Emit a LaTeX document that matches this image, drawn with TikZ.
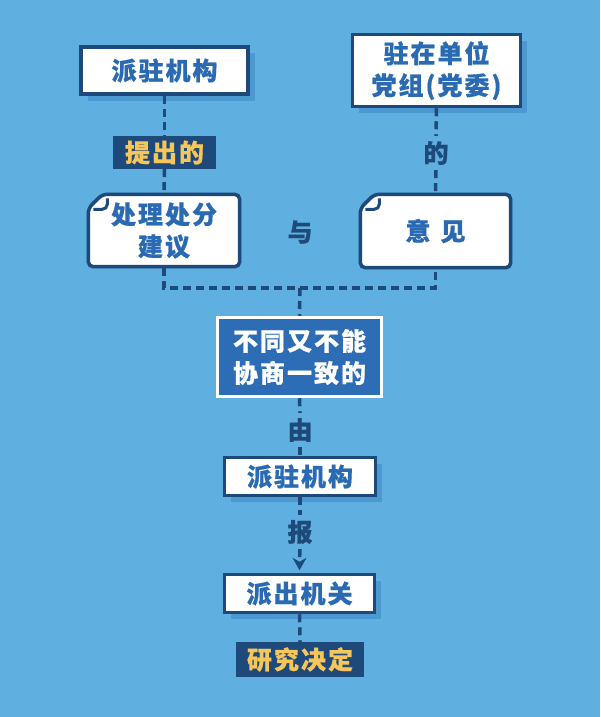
\documentclass[tikz,border=0pt]{standalone}
\usepackage{fontspec}
\newfontfamily\cjk{Noto Sans CJK SC}[LetterSpace=8,FakeBold=0.6]
\usetikzlibrary{arrows.meta,shadows,calc}
\definecolor{bgc}{HTML}{5FB0E0}
\definecolor{navy}{HTML}{1D4A7A}
\definecolor{txtblue}{HTML}{2A6AB3}
\definecolor{midblue}{HTML}{2D6DB6}
\definecolor{shadc}{HTML}{4C98D0}
\definecolor{yel}{HTML}{F7C65A}
\pgfdeclarelayer{bot}
\pgfdeclarelayer{shad}
\pgfdeclarelayer{bgl}
\pgfsetlayers{bot,shad,bgl,main}
\begin{document}
\begin{tikzpicture}[x=1pt,y=-1pt,
  font=\cjk\bfseries\fontsize{25}{32}\selectfont,
  box/.style={draw=navy, line width=3.5pt, fill=white, text=txtblue, align=center, inner sep=0pt,
    drop shadow={shadow xshift=6.5pt, shadow yshift=-6.5pt, fill=shadc, opacity=1}},
  tag/.style={fill=navy, text=yel, inner sep=0pt, align=center},
  word/.style={text=navy, inner sep=5pt},
  mid/.style={fill=midblue, draw=white, line width=3.5pt, text=white, align=center, inner sep=0pt},
  fold/.style={text=txtblue, align=center, inner sep=0pt},
  dashline/.style={navy, line width=3.5pt, dash pattern=on 8pt off 5pt},
  foldshape/.style={navy, line width=3.5pt, fill=white, rounded corners=5pt},
  foldshadow/.style={shadc, line width=3.5pt, fill=shadc, rounded corners=5pt},
  foldmark/.style={navy, line width=3pt, rounded corners=5pt},
  tip/.style={fill=navy, draw=none}
]
\begin{pgfonlayer}{bot}
\fill[bgc] (0,0) rectangle (600,717);
\end{pgfonlayer}
\useasboundingbox (0,0) rectangle (600,717);

% top boxes
\node[box, minimum width=167pt, minimum height=47pt] (b1) at (164.5,70.5) {派驻机构};
\node[box, minimum width=168pt, minimum height=72pt] (b2) at (436.5,70.5) {驻在单位\\党组(党委)};

\node[tag, minimum width=103pt, minimum height=33pt] (t1) at (164.5,152.5) {提出的};
\node[word] (de) at (436,153) {的};

% folded boxes
\node[fold, minimum width=151pt, minimum height=72pt] (b3) at (164,230.5) {处理处分\\建议};
\node[fold, minimum width=150pt, minimum height=73pt] (b4) at (435.5,231) {意\hspace{10pt}见};
\foreach \bx in {b3,b4}{
  \begin{pgfonlayer}{shad}
    \begin{scope}[shift={(5,5)}]
      \draw[foldshadow] ($(\bx.north west)+(0,14)$) -- ($(\bx.north west)+(14,0)$) -- (\bx.north east) -- (\bx.south east) -- (\bx.south west) -- cycle;
    \end{scope}
  \end{pgfonlayer}
  \begin{pgfonlayer}{bgl}
    \draw[foldshape] ($(\bx.north west)+(0,14)$) -- ($(\bx.north west)+(14,0)$) -- (\bx.north east) -- (\bx.south east) -- (\bx.south west) -- cycle;
    \draw[foldmark] ($(\bx.north west)+(19,4)$) -- ($(\bx.north west)+(19,15)$) -- ($(\bx.north west)+(5,15)$);
  \end{pgfonlayer}
}
\node[word] (yu) at (300,232) {与};

\coordinate (j) at (300,288);

\node[mid, minimum width=164pt, minimum height=79pt] (b5) at (299.5,357) {不同又不能\\协商一致的};
\node[word] (you) at (300,430) {由};
\node[box, minimum width=151pt, minimum height=38pt] (b6) at (300,476.5) {派驻机构};
\node[word] (bao) at (300,532) {报};
\node[box, minimum width=150pt, minimum height=38pt] (b7) at (299.5,593.5) {派出机关};
\node[tag, minimum width=128pt, minimum height=35pt] (t2) at (300,659.5) {研究决定};

% connectors
\draw[dashline] (b1.south) -- (t1.north);
\draw[dashline] (t1.south) -- ($(b3.north)+(0,-1.5)$);
\draw[dashline] (b2.south) -- (de.north);
\draw[dashline] (de.south) -- ($(b4.north)+(0,-1.5)$);
\draw[dashline] ($(b3.south)+(0,1.5)$) -- (b3.south |- j) -- (b4.south |- j) -- ($(b4.south)+(0,1.5)$);
\draw[dashline] (j) -- (b5.north);
\draw[dashline] (b5.south) -- (you.north);
\draw[dashline] (you.south) -- (b6.north);
\draw[dashline] (b6.south) -- (bao.north);
\draw[dashline] (bao.south) -- ($(b7.north)+(0,-12)$);
\fill[tip] ($(b7.north)+(0,-2.5)$) -- ($(b7.north)+(-7,-15)$) -- ($(b7.north)+(0,-11)$) -- ($(b7.north)+(7,-15)$) -- cycle;
\draw[dashline] (b7.south) -- (t2.north);
\end{tikzpicture}
\end{document}
